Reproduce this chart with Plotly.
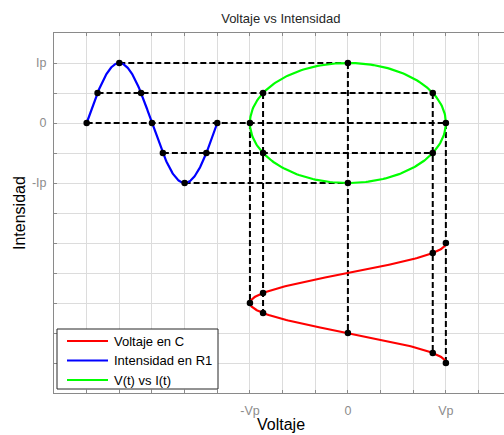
import numpy as np
import plotly.graph_objects as go

# ---- data (grid units) ----
Vp = 3.0            # peak voltage
Ip = 2.0            # peak current
t0_blue = -8.0      # where the time axis of I(t) starts (x)
t0_red = -4.0       # where the time axis of V(t) starts (y)
quarter = 1.0       # grid units per quarter period

# marked phases (in units of pi)
blue_marks = [0, 1/6, 1/2, 5/6, 1, 7/6, 3/2, 11/6, 2]
ellipse_marks = [0, 1/6, 1/2, 5/6, 1, 7/6, 3/2, 11/6]
red_marks = [0, 1/6, 5/6, 1, 7/6, 3/2, 11/6, 2]

x_tick_vals = [-3, 0, 3]
x_tick_text = ["-Vp", "0", "Vp"]
y_tick_vals = [2, 0, -2]
y_tick_text = ["Ip", "0", "-Ip"]

series_names = ["Voltaje en C", "Intensidad en R1", "V(t) vs I(t)"]
series_colors = ["#ff0000", "#0000ff", "#00ff00"]

# plot-area geometry in pixels (for the hand-drawn legend box)
L, T, W, H = 54, 33, 450, 360


def blue_xy(ph):
    ph = np.asarray(ph, dtype=float)
    return t0_blue + ph * 2 * quarter, Ip * np.sin(np.pi * ph)


def ellipse_xy(ph):
    ph = np.asarray(ph, dtype=float)
    return Vp * np.cos(np.pi * ph), Ip * np.sin(np.pi * ph)


def red_xy(ph):
    ph = np.asarray(ph, dtype=float)
    return Vp * np.cos(np.pi * ph), t0_red - ph * 2 * quarter


def px(x):
    return (x - L) / W


def py(y):
    return (T + H - y) / H


fig = go.Figure()

# ---- dashed construction lines ----
bx, by = blue_xy(blue_marks)
ex, ey = ellipse_xy(ellipse_marks)
rx, ry = red_xy(red_marks)

dash_style = dict(color="black", width=2, dash="6px,3px")
levels_i = sorted(set(np.round(by, 6)))
for lv in levels_i:
    xs = list(bx[np.isclose(by, lv)]) + list(ex[np.isclose(ey, lv)])
    fig.add_trace(go.Scatter(x=[min(xs), max(xs)], y=[lv, lv], mode="lines",
                             line=dash_style, showlegend=False, hoverinfo="skip"))
levels_v = sorted(set(np.round(ex, 6)))
for lv in levels_v:
    ys = list(ey[np.isclose(ex, lv)]) + list(ry[np.isclose(rx, lv)])
    fig.add_trace(go.Scatter(x=[lv, lv], y=[max(ys), min(ys)], mode="lines",
                             line=dash_style, showlegend=False, hoverinfo="skip"))

# ---- curves ----
ph = np.linspace(0, 2, 241)
for fn, name, col in zip([red_xy, blue_xy, ellipse_xy], series_names, series_colors):
    cx, cy = fn(ph)
    fig.add_trace(go.Scatter(x=cx, y=cy, mode="lines", name=name,
                             line=dict(color=col, width=2.2), showlegend=False))

# ---- dots ----
fig.add_trace(go.Scatter(x=np.concatenate([bx, ex, rx]), y=np.concatenate([by, ey, ry]),
                         mode="markers", marker=dict(color="black", size=6.5),
                         showlegend=False, hoverinfo="skip"))

# ---- axes ----
xt = list(range(-9, 5))
xl = [x_tick_text[x_tick_vals.index(v)] if v in x_tick_vals else "" for v in xt]
yt = list(range(-9, 4))
yl = [y_tick_text[y_tick_vals.index(v)] if v in y_tick_vals else "" for v in yt]

axis_common = dict(showgrid=True, gridcolor="#dcdcdc", gridwidth=1, zeroline=False,
                   showline=True, linecolor="#8a8a8a", linewidth=1,
                   ticks="inside", ticklen=3, tickcolor="#8a8a8a",
                   tickfont=dict(family="Liberation Sans, Arial", size=12.5, color="#8c8c8c"))

fig.update_xaxes(range=[-9, 4.78], tickmode="array", tickvals=xt, ticktext=xl,
                 mirror="ticks", ticklabelstandoff=6, **axis_common)
fig.update_yaxes(range=[-9, 3], tickmode="array", tickvals=yt, ticktext=yl,
                 mirror=False, ticklabelstandoff=4, **axis_common)

# ---- legend (drawn as a box, matching the reference layout) ----
shapes = [dict(type="rect", xref="paper", yref="paper",
               x0=px(57), x1=px(218), y0=py(389), y1=py(329),
               fillcolor="white", line=dict(color="#262626", width=1), layer="above")]
annotations = []
row_y = [341, 360.5, 380]
for yy, name, col in zip(row_y, series_names, series_colors):
    shapes.append(dict(type="line", xref="paper", yref="paper",
                       x0=px(67), x1=px(108), y0=py(yy), y1=py(yy),
                       line=dict(color=col, width=2.2), layer="above"))
    annotations.append(dict(text=name, x=px(112), y=py(yy), xref="paper", yref="paper",
                            xanchor="left", yanchor="middle", showarrow=False,
                            font=dict(size=13, color="black")))

annotations += [
    dict(text="Voltaje", x=px(281), y=py(425), xref="paper", yref="paper",
         xanchor="center", yanchor="middle", showarrow=False,
         font=dict(size=16, color="black")),
    dict(text="Intensidad", x=px(19), y=0.5, xref="paper", yref="paper",
         xanchor="center", yanchor="middle", textangle=-90, showarrow=False,
         font=dict(size=16, color="black")),
]

fig.update_layout(
    width=504, height=435,
    margin=dict(l=L, r=0, t=T, b=435 - T - H),
    paper_bgcolor="white", plot_bgcolor="white",
    font=dict(family="Liberation Sans, Arial", color="black"),
    title=dict(text="Voltaje vs Intensidad", x=0.504, xref="paper", xanchor="center",
               y=1 - 18 / 435, yref="container", yanchor="middle",
               font=dict(size=13, color="#262626")),
    showlegend=False,
    shapes=shapes,
    annotations=annotations,
)

fig.write_html("out.html")
